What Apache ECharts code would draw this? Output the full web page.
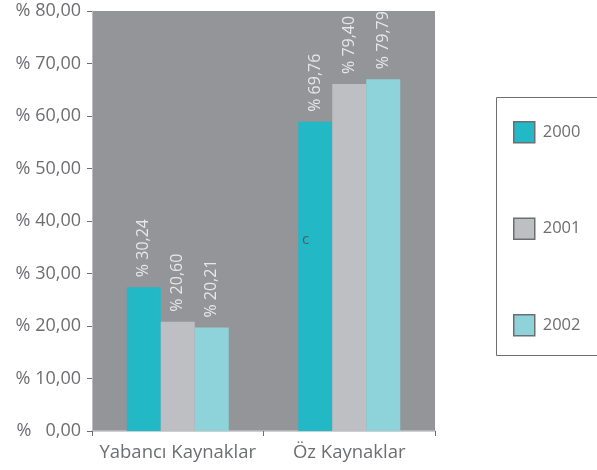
<!DOCTYPE html>
<html lang="tr">
<head>
    <meta charset="UTF-8">
    <script src="https://cdn.jsdelivr.net/npm/echarts@6/dist/echarts.min.js"></script>
    <style>
        html, body { margin: 0; padding: 0; background: #fff; }
        #main { width: 597px; height: 470px; }
    </style>
</head>
<body>
    <div id="main"></div>
<script>
    var categories = ['Yabancı Kaynaklar', 'Öz Kaynaklar'];
    var years = ['2000', '2001', '2002'];
    // bar heights as drawn
    var v2000 = [27.4, 58.9];
    var v2001 = [20.8, 66.1];
    var v2002 = [19.7, 67.0];
    // printed labels above the bars
    var l2000 = ['% 30,24', '% 69,76'];
    var l2001 = ['% 20,60', '% 79,40'];
    var l2002 = ['% 20,21', '% 79,79'];
    var colors = ['#22b8c6', '#bebfc3', '#8fd3da'];
    var textColor = '#6d6e71';
    var font = '"Open Sans", Lato, sans-serif';

    function makeSeries(name, values, labels, color) {
        return {
            name: name,
            type: 'bar',
            barWidth: 34,
            barGap: '0%',
            itemStyle: { color: color },
            label: {
                show: true,
                position: 'top',
                rotate: 90,
                align: 'left',
                verticalAlign: 'middle',
                distance: 10,
                color: '#e6e7e8',
                fontSize: 16,
                fontFamily: font,
                formatter: function (p) { return labels[p.dataIndex]; }
            },
            data: values
        };
    }

    var myChart = echarts.init(document.getElementById('main'));
    var option = {
        animation: false,
        grid: {
            left: 92, top: 11, width: 343, height: 420,
            show: true, backgroundColor: '#939598', borderWidth: 0
        },
        legend: {
            orient: 'vertical',
            left: 508, top: 116,
            itemWidth: 21, itemHeight: 21,
            itemGap: 74,
            data: years,
            icon: 'rect',
            textStyle: { color: textColor, fontSize: 16.5, fontFamily: font, lineHeight: 21, padding: [0, 0, 0, 3] },
            itemStyle: { borderColor: '#6d6e71', borderWidth: 1.5 }
        },
        xAxis: {
            type: 'category',
            data: categories,
            axisLine: { lineStyle: { color: '#bcbec0', width: 1.5 } },
            axisTick: { show: true, length: 5, lineStyle: { color: '#6d6e71' } },
            axisLabel: { interval: 0, color: textColor, fontSize: 18.5, fontFamily: font, margin: 12 }
        },
        yAxis: {
            type: 'value',
            min: 0, max: 80, interval: 10,
            axisLine: { show: true, lineStyle: { color: '#bcbec0' } },
            axisTick: { show: true, length: 5, lineStyle: { color: '#6d6e71' } },
            splitLine: { show: false },
            axisLabel: {
                color: textColor, fontSize: 18, fontFamily: font, margin: 11,
                formatter: function (v) {
                    var s = v.toFixed(2).replace('.', ',');
                    return v < 10 ? '%   ' + s : '% ' + s;
                }
            }
        },
        graphic: [
            {
                type: 'rect', left: 494, top: 95, silent: true,
                shape: { width: 140, height: 258 },
                style: { fill: 'none', stroke: '#6d6e71', lineWidth: 1 }
            },
            {
                type: 'text', left: 302, top: 232, silent: true, z: 100,
                style: { text: 'c', fill: '#58595b', fontSize: 15, fontFamily: font }
            }
        ],
        series: [
            makeSeries(years[0], v2000, l2000, colors[0]),
            makeSeries(years[1], v2001, l2001, colors[1]),
            makeSeries(years[2], v2002, l2002, colors[2])
        ]
    };
    myChart.setOption(option);
</script>
</body>
</html>
